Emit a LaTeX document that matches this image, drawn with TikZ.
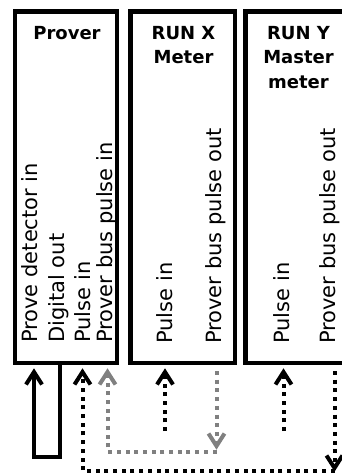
\documentclass[tikz,border=0pt]{standalone}
\usepackage{fontspec}
\setmainfont{DejaVu Sans}
\definecolor{midgray}{RGB}{128,128,128}
\begin{document}
\begin{tikzpicture}[x=1pt,y=-1pt,
  box/.style={draw=black,line width=4.3pt,rectangle,inner sep=0pt},
  title/.style={font=\fontsize{18}{21}\selectfont\bfseries,anchor=base,inner sep=0pt},
  sig/.style={font=\fontsize{21}{24}\selectfont,rotate=90,anchor=base west,inner sep=0pt},
  solidlink/.style={line width=4pt},
  dotlink/.style={line width=4pt,dash pattern=on 4pt off 4.7pt},
  graylink/.style={dotlink,draw=midgray},
  chevup/.pic={\draw[line width=4pt,line join=miter,pic actions] (-8,12.5) -- (0,0) -- (8,12.5);},
  chevdown/.pic={\draw[line width=4pt,line join=miter,pic actions] (-8,-12.5) -- (0,0) -- (8,-12.5);}]
\useasboundingbox (0,0) rectangle (342,473);
\clip (0,0) rectangle (342,473);
% boxes
\node[box,minimum width=102.3pt,minimum height=351.5pt] (b1) at (65.85,187.3) {};
\node[box,minimum width=104.5pt,minimum height=351.5pt] (b2) at (182.75,187.3) {};
\node[box,minimum width=106pt,minimum height=351.5pt] (b3) at (298.5,187.3) {};
% titles
\node[title] (t1) at (67,40) {Prover};
\node[title] (t2a) at (183.5,40) {RUN X};
\node[title] (t2b) at (183.5,64) {Meter};
\node[title] (t3a) at (298.5,40) {RUN Y};
\node[title] (t3b) at (298.5,64) {Master};
\node[title] (t3c) at (298.5,89) {meter};
% signal labels
\node[sig] (s11) at (37,343) {Prove detector in};
\node[sig] (s12) at (64,343) {Digital out};
\node[sig] (s13) at (90,343) {Pulse in};
\node[sig] (s14) at (112,343) {Prover bus pulse in};
\node[sig] (s21) at (172.5,344) {Pulse in};
\node[sig] (s22) at (221,344) {Prover bus pulse out};
\node[sig] (s31) at (289,344) {Pulse in};
\node[sig] (s32) at (335,344) {Prover bus pulse out};
% connection points
\coordinate (pdIn) at (34,372);
\coordinate (dOut) at (60,364);
\coordinate (loopR) at (60,457);
\coordinate (loopL) at (34,457);
\coordinate (p1In) at (82.5,372);
\coordinate (pb1In) at (107.5,372);
\coordinate (p2In) at (165,372);
\coordinate (p2Src) at (165,431);
\coordinate (p3In) at (283.5,372);
\coordinate (p3Src) at (283.5,431);
\coordinate (pb2Out) at (216.5,371);
\coordinate (pb2End) at (216.5,446);
\coordinate (grayR) at (216.5,451.5);
\coordinate (grayL) at (107.5,451.5);
\coordinate (pb3Out) at (334.5,371);
\coordinate (pb3End) at (334.5,468);
\coordinate (blkL) at (82.5,470.5);
% connectors
\draw[solidlink] (dOut) -- (loopR) -- (loopL) -- (pdIn);
\pic at (pdIn) {chevup};
\draw[dotlink] (p2Src) -- (p2In);
\pic at (p2In) {chevup};
\draw[dotlink] (p3Src) -- (p3In);
\pic at (p3In) {chevup};
\draw[graylink] (pb2Out) -- (pb2End);
\pic[draw=midgray] at (pb2End) {chevdown};
\draw[graylink] (grayR) -- (grayL) -- (pb1In);
\pic[draw=midgray] at (pb1In) {chevup};
\draw[dotlink] (pb3Out) -- (pb3End);
\pic at (pb3End) {chevdown};
\draw[dotlink] (pb3End |- blkL) -- (blkL) -- (p1In);
\pic at (p1In) {chevup};
\end{tikzpicture}
\end{document}
